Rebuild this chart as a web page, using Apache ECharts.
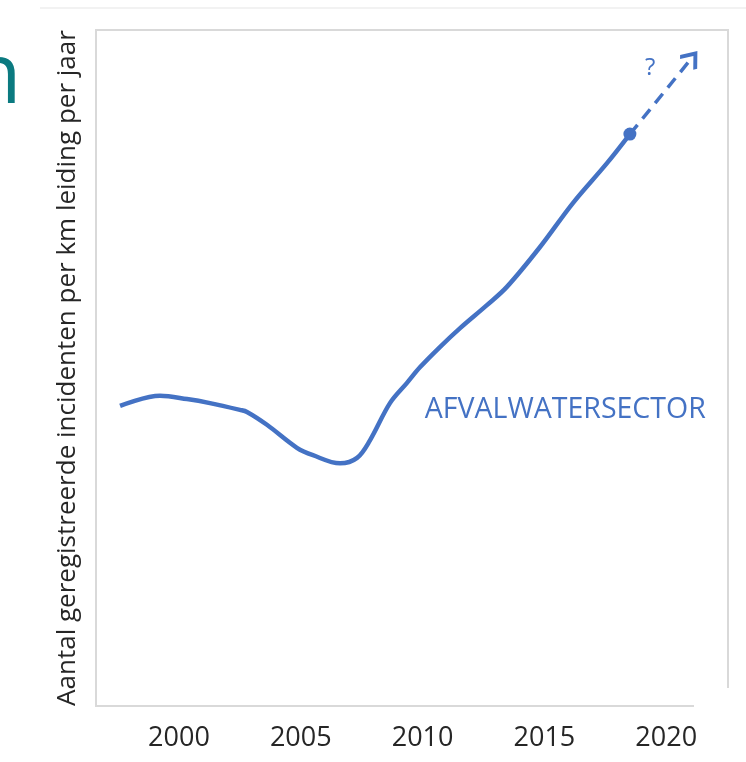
<!DOCTYPE html>
<html>
<head>
<meta charset="utf-8">
<script src="https://cdn.jsdelivr.net/npm/echarts@6/dist/echarts.min.js"></script>
<style>html,body{margin:0;padding:0;background:#fff;}#c{width:746px;height:762px;}</style>
</head>
<body>
<div id="c"></div>
<script>
// Data (y in arbitrary units, 0..100 over the plot height)
var years = [1997.58, 1999.22, 2000.33, 2001.27, 2002.50, 2002.79, 2003.61, 2004.84, 2005.50, 2006.61, 2007.31, 2007.84, 2008.66, 2009.36, 2009.89, 2010.71, 2011.54, 2012.64, 2013.46, 2014.82, 2016.17, 2017.57, 2018.51];
var incidents = [44.4, 45.9, 45.4, 44.8, 43.8, 43.5, 41.6, 38.2, 37.1, 35.9, 36.7, 39.3, 44.8, 47.8, 50.1, 53.1, 55.9, 59.3, 62.0, 67.9, 74.4, 80.3, 84.6];
var lastPoint = [2018.51, 84.6];
var forecastEnd = [2021.06, 95.9];
var questionPos = [2019.34, 94.4];
var sectorLabelPos = [2010.05, 43.8];
var tickYears = [2000, 2005, 2010, 2015, 2020];
var sectorName = 'AFVALWATERSECTOR';
var yTitle = 'Aantal geregistreerde incidenten per km leiding per jaar';

var blue = '#4472C4';
var font = 'Open Sans';
var lineData = years.map(function (y, i) { return [y, incidents[i]]; });

var chart = echarts.init(document.getElementById('c'));
chart.setOption({
  animation: false,
  backgroundColor: '#fff',
  grid: { left: 96, top: 30, right: 18, bottom: 56, show: true, borderColor: '#d9d9d9', borderWidth: 2, backgroundColor: 'transparent' },
  xAxis: {
    type: 'value', min: 1996.593, max: 2022.537,
    axisLine: { show: false }, axisTick: { show: false }, splitLine: { show: false },
    axisLabel: { customValues: tickYears, color: '#262626', fontSize: 27, fontFamily: font, margin: 19, formatter: function (v) { return String(Math.round(v)); } }
  },
  yAxis: {
    type: 'value', min: 0, max: 100,
    axisLine: { show: false }, axisTick: { show: false }, splitLine: { show: false }, axisLabel: { show: false },
    name: yTitle, nameLocation: 'middle', nameRotate: 90, nameGap: 15,
    nameTextStyle: { color: '#262626', fontSize: 26, fontFamily: font }
  },
  series: [
    {
      type: 'line', data: lineData, smooth: 0.35, symbol: 'none',
      lineStyle: { color: blue, width: 4.5 }, z: 3
    },
    {
      type: 'line', data: [lastPoint, forecastEnd], symbol: 'none',
      lineStyle: { width: 0, opacity: 0 },
      markLine: {
        silent: true,
        symbol: ['none', 'path://M0,0 L11,11 L8.5,13.5 L0,5 L-8.5,13.5 L-11,11 Z'],
        symbolSize: [22, 17],
        lineStyle: { color: blue, width: 3.5, type: [12, 8] },
        label: { show: false },
        data: [[{ coord: lastPoint }, { coord: forecastEnd }]]
      }
    },
    {
      type: 'scatter', data: [lastPoint], symbolSize: 13,
      itemStyle: { color: blue, opacity: 1 }, z: 5
    },
    {
      type: 'scatter', data: [questionPos], symbol: 'circle', symbolSize: 2,
      itemStyle: { color: 'rgba(0,0,0,0)', opacity: 1 },
      label: { show: true, position: 'inside', formatter: '?', color: blue, fontSize: 24, fontFamily: font }
    },
    {
      type: 'scatter', data: [sectorLabelPos], symbol: 'circle', symbolSize: 2,
      itemStyle: { color: 'rgba(0,0,0,0)', opacity: 1 },
      label: { show: true, position: 'right', distance: 0, formatter: sectorName, color: blue, fontSize: 28.5, fontFamily: font }
    }
  ],
  graphic: [
    { type: 'line', shape: { x1: 40, y1: 8, x2: 746, y2: 8 }, style: { stroke: '#f2f2f2', lineWidth: 2 }, z: 100 },
    { type: 'rect', shape: { x: 694, y: 688, width: 40, height: 26 }, style: { fill: '#fff' }, z: 100 },
    { type: 'text', left: -30, top: 37, style: { text: 'n', fill: '#0b7a80', font: '84px "Open Sans"' }, z: 100 }
  ]
});
</script>
</body>
</html>
